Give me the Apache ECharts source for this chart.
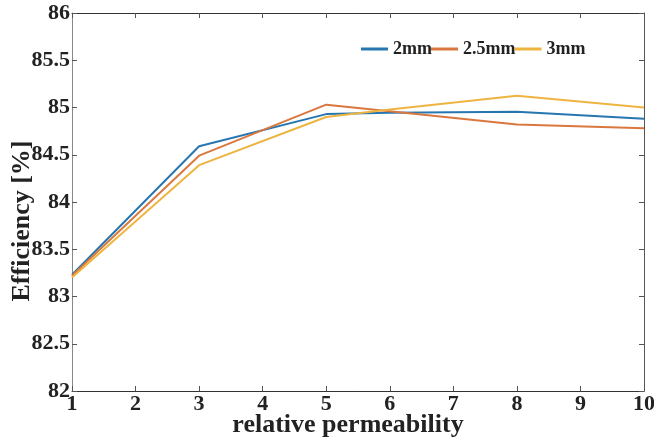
<!DOCTYPE html>
<html><head><meta charset="utf-8">
<script src="https://cdn.jsdelivr.net/npm/echarts@6/dist/echarts.min.js"></script>
<style>html,body{margin:0;padding:0;background:#fff}#c{width:654px;height:441px}</style>
</head><body><div id="c"></div>
<script>
const xValues = [1, 3, 5, 6, 8, 10];
const s2mm = [83.23, 84.59, 84.93, 84.945, 84.955, 84.88];
const s25mm = [83.22, 84.49, 85.03, 84.96, 84.82, 84.78];
const s3mm = [83.2, 84.39, 84.9, 84.98, 85.125, 85.0];
const seriesNames = ['2mm', '2.5mm', '3mm'];
const colors = ['#2676B0', '#D9773F', '#EDB440'];
const font = '"Liberation Serif", "Times New Roman", serif';

const chart = echarts.init(document.getElementById('c'));
const pairs = arr => xValues.map((x, i) => [x, arr[i]]);
const data = [s2mm, s25mm, s3mm];
chart.setOption({
  animation: false,
  grid: { left: 72, right: 10, top: 13, bottom: 50, outerBoundsMode: 'none', containLabel: false },
  legend: {
    top: 40, left: 361, padding: 0, itemGap: -1, itemWidth: 27, itemHeight: 3, icon: 'rect',
    textStyle: { fontFamily: font, fontWeight: 'bold', fontSize: 18, color: '#222' },
    data: seriesNames
  },
  xAxis: [{
    type: 'value', min: 1, max: 10, interval: 1,
    name: 'relative permeability', nameLocation: 'middle', nameGap: 21, nameMoveOverlap: false,
    nameTextStyle: { fontFamily: font, fontWeight: 'bold', fontSize: 26, color: '#222', padding: [0, 20, 0, 0] },
    axisLine: { lineStyle: { color: '#333', width: 1 } },
    axisTick: { inside: true, length: 5, lineStyle: { color: '#555' } },
    axisLabel: { fontFamily: font, fontWeight: 'bold', fontSize: 22, color: '#222', margin: 2 },
    splitLine: { show: false }
  }, {
    type: 'value', min: 1, max: 10, interval: 1, position: 'top',
    axisLine: { lineStyle: { color: '#333', width: 1 } },
    axisTick: { inside: true, length: 5, lineStyle: { color: '#555' } },
    axisLabel: { show: false }, splitLine: { show: false }
  }],
  yAxis: [{
    type: 'value', min: 82, max: 86, interval: 0.5,
    name: 'Efficiency [%]', nameLocation: 'middle', nameGap: 37, nameMoveOverlap: false,
    nameTextStyle: { fontFamily: font, fontWeight: 'bold', fontSize: 26, color: '#222', padding: [0, 38, 0, 0] },
    axisLine: { show: true, lineStyle: { color: '#888', width: 1 } },
    axisTick: { show: true, inside: true, length: 5, lineStyle: { color: '#555' } },
    axisLabel: { fontFamily: font, fontWeight: 'bold', fontSize: 22, color: '#222', margin: 2 },
    splitLine: { show: false }
  }, {
    type: 'value', min: 82, max: 86, interval: 0.5, position: 'right',
    axisLine: { show: true, lineStyle: { color: '#555', width: 1 } },
    axisTick: { show: true, inside: true, length: 5, lineStyle: { color: '#555' } },
    axisLabel: { show: false }, splitLine: { show: false }
  }],
  series: seriesNames.map((n, i) => ({
    name: n, type: 'line', data: pairs(data[i]), showSymbol: false,
    color: colors[i], lineStyle: { width: 2, color: colors[i] }
  }))
});
</script></body></html>
